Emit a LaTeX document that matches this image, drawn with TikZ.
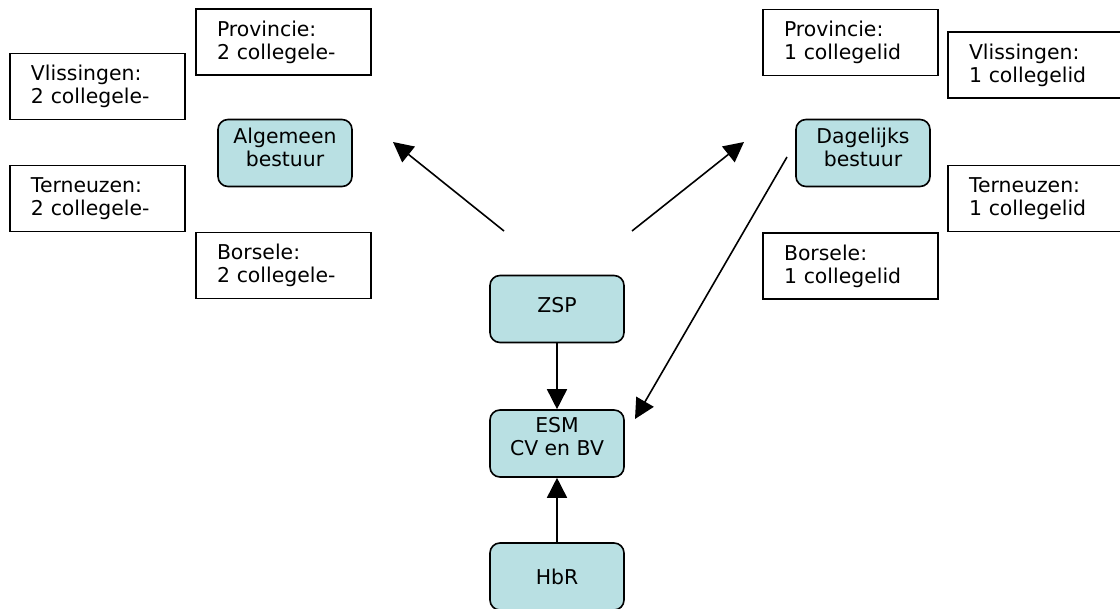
\documentclass[tikz,border=0pt]{standalone}
\usepackage{fontspec}
\setmainfont{DejaVu Sans}
\usepackage{tikz}
\usetikzlibrary{arrows.meta,positioning,calc}
\definecolor{bestuurblauw}{HTML}{B9E0E3}

\begin{document}
\begin{tikzpicture}[x=0.5pt,y=-0.5pt,
    lid/.style={draw,line width=0.8pt,minimum width=87.5pt,minimum height=33pt,
        text width=66.5pt,inner xsep=10.5pt,align=left,font=\fontsize{10.2}{11.5}\selectfont},
    orgaan/.style={draw,line width=0.8pt,fill=bestuurblauw,rounded corners=5pt,
        minimum width=67pt,minimum height=33.5pt,align=center,font=\fontsize{10.2}{11.5}\selectfont},
    pijl/.style={line width=0.8pt,-{Triangle[length=10pt,width=10pt]}}]
    \useasboundingbox (0,0) rectangle (1120,609);

    % algemeen bestuur
    \node [lid] (provA) at (283.5,42) {Provincie:\\2 collegele-};
    \node [lid] (vlisA) at (97.5,86.5) {Vlissingen:\\2 collegele-};
    \node [orgaan] (ab) at (285,153) {Algemeen\\bestuur\\[-5.5pt]};
    \node [lid] (terA) at (97.5,198.5) {Terneuzen:\\2 collegele-};
    \node [lid] (borA) at (283.5,265.5) {Borsele:\\2 collegele-};

    % dagelijks bestuur
    \node [lid] (provD) at (850.5,42.5) {Provincie:\\1 collegelid};
    \node [lid] (vlisD) at (1035.5,65) {Vlissingen:\\1 collegelid};
    \node [orgaan] (db) at (863,153) {Dagelijks\\bestuur\\[-5.5pt]};
    \node [lid] (terD) at (1035.5,198.5) {Terneuzen:\\1 collegelid};
    \node [lid] (borD) at (850.5,266) {Borsele:\\1 collegelid};

    % midden
    \node [orgaan] (zsp) at (557,309) {ZSP\\[-7.5pt]};
    \node [orgaan] (esm) at (557,443.5) {ESM\\CV en BV\\[-4.5pt]};
    \node [orgaan] (hbr) at (557,576.5) {HbR};

    \coordinate (abStart) at (504,231);
    \coordinate (abEind) at (393,142);
    \coordinate (dbStart) at (632,231);
    \coordinate (dbEind) at (744,142);
    \coordinate (dbUit) at (787,157);
    \coordinate (esmIn) at (635,419);

    \draw [pijl] (abStart) -- (abEind);
    \draw [pijl] (dbStart) -- (dbEind);
    \draw [pijl] (dbUit) -- (esmIn);
    \draw [pijl] (zsp) -- (esm);
    \draw [pijl] (hbr) -- (esm);
\end{tikzpicture}
\end{document}
